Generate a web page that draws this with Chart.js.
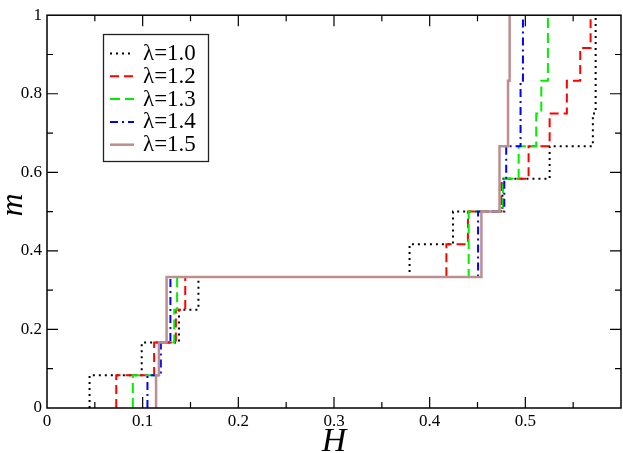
<!DOCTYPE html>
<html>
<head>
<meta charset="utf-8">
<script src="https://cdn.jsdelivr.net/npm/chart.js@4.4.0/dist/chart.umd.min.js"></script>
<style>
  html, body { margin: 0; padding: 0; background: #fff; }
</style>
</head>
<body>
<canvas id="chart" width="623" height="453"></canvas>
<script>
// H where m jumps, and the m level reached at each jump
var labels = ['λ=1.0', 'λ=1.2', 'λ=1.3', 'λ=1.4', 'λ=1.5'];

var h10 = [0.0445, 0.099, 0.138, 0.1583, 0.379, 0.4244, 0.476, 0.5254, 0.5706, 0.5735];
var m10 = [1/12, 2/12, 3/12, 4/12, 5/12, 6/12, 7/12, 8/12, 9/12, 1];

var h12 = [0.0724, 0.112, 0.1347, 0.1445, 0.4175, 0.440, 0.4749, 0.5034, 0.5254, 0.5434, 0.5574, 0.5682];
var m12 = [1/12, 2/12, 3/12, 4/12, 5/12, 6/12, 7/12, 8/12, 9/12, 10/12, 11/12, 1];

var h13 = [0.0897, 0.117, 0.133, 0.136, 0.4408, 0.4766, 0.493, 0.5114, 0.5167, 0.5236];
var m13 = [1/12, 2/12, 3/12, 4/12, 6/12, 7/12, 8/12, 9/12, 10/12, 1];

var h14 = [0.105, 0.119, 0.129, 0.4506, 0.478, 0.480, 0.495, 0.4975];
var m14 = [1/12, 2/12, 4/12, 6/12, 7/12, 8/12, 10/12, 1];

var h15 = [0.114, 0.117, 0.125, 0.4541, 0.473, 0.4819, 0.4836];
var m15 = [1/12, 2/12, 4/12, 6/12, 8/12, 10/12, 1];

var xTicks = [0, 0.1, 0.2, 0.3, 0.4, 0.5];

var colors = ['#000000', '#ff0000', '#00ee00', '#0000ff', '#bc8f8f'];
var dashes = [[2, 4], [9, 5], [10, 5], [8, 4, 2, 4], []];
var widths = [2, 2, 2, 2, 2.5];

function stepPoints(h, m) {
  var pts = [];
  var prev = 0;
  for (var i = 0; i < h.length; i++) {
    pts.push({x: h[i], y: prev});
    pts.push({x: h[i], y: m[i]});
    prev = m[i];
  }
  return pts;
}

var series = [[h10, m10], [h12, m12], [h13, m13], [h14, m14], [h15, m15]];
var datasets = series.map(function(s, i) {
  return {
    label: labels[i],
    data: stepPoints(s[0], s[1]),
    borderColor: colors[i],
    borderDash: dashes[i],
    borderWidth: widths[i],
    pointRadius: 0,
    tension: 0,
    fill: false,
    order: 5 - i
  };
});

var SERIF = '"Liberation Serif", "Times New Roman", serif';

// frame, inward ticks on all sides, axis titles and legend box
var decor = {
  id: 'decor',
  afterDraw: function(chart) {
    var ctx = chart.ctx;
    var a = chart.chartArea;
    var xs = chart.scales.x, ys = chart.scales.y;
    ctx.save();
    ctx.strokeStyle = '#000';
    ctx.lineWidth = 1.5;
    ctx.strokeRect(a.left, a.top, a.right - a.left, a.bottom - a.top);

    ctx.lineWidth = 1.2;
    ctx.beginPath();
    for (var k = 1; k < 12; k++) {
      var px = xs.getPixelForValue(k * 0.05);
      var len = (k % 2 === 0) ? 11 : 6;
      ctx.moveTo(px, a.bottom); ctx.lineTo(px, a.bottom - len);
      ctx.moveTo(px, a.top); ctx.lineTo(px, a.top + len);
    }
    for (var j = 1; j < 10; j++) {
      var py = ys.getPixelForValue(j * 0.1);
      var l2 = (j % 2 === 0) ? 11 : 6;
      ctx.moveTo(a.left, py); ctx.lineTo(a.left + l2, py);
      ctx.moveTo(a.right, py); ctx.lineTo(a.right - l2, py);
    }
    ctx.stroke();

    // axis titles
    ctx.fillStyle = '#000';
    ctx.font = 'italic 34px ' + SERIF;
    ctx.textAlign = 'center';
    ctx.textBaseline = 'alphabetic';
    ctx.fillText('H', (a.left + a.right) / 2, 451);
    ctx.save();
    ctx.translate(22, 205);
    ctx.rotate(-Math.PI / 2);
    ctx.font = 'italic 32px ' + SERIF;
    ctx.fillText('m', 0, 0);
    ctx.restore();

    // legend
    var bx = 103.5, by = 34.5, bw = 105, bh = 127;
    ctx.fillStyle = '#fff';
    ctx.fillRect(bx, by, bw, bh);
    ctx.strokeStyle = '#222';
    ctx.lineWidth = 1.3;
    ctx.strokeRect(bx, by, bw, bh);
    ctx.font = '23px ' + SERIF;
    ctx.textAlign = 'left';
    for (var i = 0; i < datasets.length; i++) {
      var d = datasets[i];
      var yy = 53.5 + i * 22.8;
      ctx.strokeStyle = d.borderColor;
      ctx.lineWidth = d.borderWidth;
      ctx.setLineDash(d.borderDash);
      ctx.beginPath();
      ctx.moveTo(110, yy); ctx.lineTo(134, yy);
      ctx.stroke();
      ctx.setLineDash([]);
      ctx.fillStyle = '#000';
      ctx.fillText(d.label, 143, yy + 6.5);
    }
    ctx.restore();
  }
};

new Chart(document.getElementById('chart').getContext('2d'), {
  type: 'line',
  data: { datasets: datasets },
  options: {
    responsive: false,
    animation: false,
    layout: { padding: { top: 7, right: 2, left: 0, bottom: 0 } },
    plugins: { legend: { display: false }, tooltip: { enabled: false } },
    scales: {
      x: {
        type: 'linear',
        min: 0, max: 0.6,
        afterFit: function(s) { s.height = 45; },
        afterBuildTicks: function(s) { s.ticks = xTicks.map(function(v) { return {value: v}; }); },
        grid: { display: false, drawTicks: false },
        border: { display: false },
        ticks: {
          padding: 3,
          color: '#000',
          maxRotation: 0,
          font: { family: SERIF, size: 17 },
          callback: function(v) { return String(Math.round(v * 10) / 10); }
        }
      },
      y: {
        type: 'linear',
        min: 0, max: 1,
        afterFit: function(s) { s.width = 47; },
        grid: { display: false, drawTicks: false },
        border: { display: false },
        ticks: {
          stepSize: 0.2,
          padding: 5,
          color: '#000',
          font: { family: SERIF, size: 17 },
          callback: function(v) { return String(Math.round(v * 10) / 10); }
        }
      }
    }
  },
  plugins: [decor]
});
</script>
</body>
</html>
